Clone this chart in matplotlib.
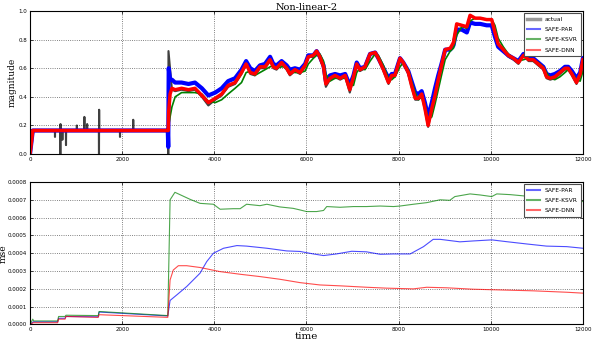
import numpy as np
import matplotlib
matplotlib.use("Agg")
import matplotlib.pyplot as plt
from matplotlib.ticker import FormatStrFormatter

# ---- top panel: magnitude ----
# actual signal, flat part with spikes then the drifting part
t_actual = [0, 540, 542, 545, 655, 658, 662, 666, 700, 702, 705, 778, 781, 784,
            1014, 1017, 1020, 1177, 1180, 1183, 1237, 1240, 1243, 1494, 1497, 1500,
            1503, 1950, 1953, 1956, 2237, 2240, 2243, 2995, 3000, 3005]
actual = [0.165, 0.165, 0.12, 0.165, 0.165, 0.0, 0.21, 0.165, 0.165, 0.10, 0.165,
          0.165, 0.063, 0.165, 0.165, 0.20, 0.165, 0.165, 0.26, 0.165, 0.165, 0.21,
          0.165, 0.165, 0.0, 0.31, 0.165, 0.165, 0.12, 0.165, 0.165, 0.24, 0.165,
          0.165, 0.0, 0.72]

t_drift = [3080, 3150, 3290, 3440, 3580, 3730, 3870, 4020, 4160, 4300, 4450, 4590,
           4690, 4780, 4880, 4990, 5100, 5210, 5280, 5350, 5460, 5570, 5640, 5750,
           5860, 5970, 6040, 6150, 6220, 6290, 6370, 6420, 6510, 6620, 6730, 6840,
           6940, 7020, 7090, 7160, 7270, 7380, 7490, 7560, 7670, 7780, 7850, 7920,
           8030, 8100, 8210, 8280, 8360, 8430, 8500, 8570, 8640, 8720, 8790, 8860,
           8930, 9010, 9120, 9190, 9260, 9370, 9480, 9550, 9660, 9770, 9910, 10020,
           10090, 10160, 10270, 10380, 10490, 10600, 10710, 10820, 10920, 11030,
           11140, 11210, 11290, 11390, 11500, 11610, 11680, 11760, 11860, 11940, 12000]
actual_drift = [0.45, 0.44, 0.45, 0.44, 0.45, 0.40, 0.34, 0.38, 0.41, 0.47, 0.49, 0.56,
                0.63, 0.56, 0.55, 0.60, 0.60, 0.65, 0.60, 0.59, 0.63, 0.59, 0.55, 0.58,
                0.56, 0.61, 0.68, 0.68, 0.72, 0.67, 0.60, 0.47, 0.52, 0.54, 0.52, 0.54,
                0.43, 0.53, 0.63, 0.58, 0.60, 0.70, 0.71, 0.67, 0.58, 0.49, 0.54, 0.54,
                0.67, 0.63, 0.56, 0.47, 0.38, 0.38, 0.41, 0.31, 0.19, 0.31, 0.40, 0.51,
                0.61, 0.73, 0.73, 0.77, 0.91, 0.90, 0.88, 0.97, 0.95, 0.95, 0.94, 0.94,
                0.84, 0.76, 0.72, 0.68, 0.66, 0.63, 0.69, 0.65, 0.65, 0.62,
                0.59, 0.53, 0.52, 0.53, 0.56, 0.59, 0.59, 0.55, 0.49, 0.55, 0.67]

# predictions: start + jump, then same drift grid
t_start = [0, 60, 2990, 3000, 3010, 3040]
par_start = [0.0, 0.165, 0.165, 0.05, 0.60, 0.52]
ksvr_start = [0.0, 0.165, 0.165, 0.165, 0.20, 0.26]
dnn_start = [0.0, 0.165, 0.165, 0.165, 0.30, 0.42]

par_drift = [0.52, 0.50, 0.50, 0.49, 0.50, 0.46, 0.41, 0.43, 0.46, 0.51, 0.53, 0.59,
             0.65, 0.60, 0.58, 0.62, 0.63, 0.68, 0.63, 0.62, 0.65, 0.62, 0.59, 0.60,
             0.59, 0.63, 0.69, 0.69, 0.72, 0.68, 0.62, 0.51, 0.55, 0.56, 0.55, 0.56,
             0.48, 0.55, 0.64, 0.60, 0.61, 0.70, 0.71, 0.67, 0.60, 0.53, 0.56, 0.56,
             0.67, 0.64, 0.58, 0.51, 0.43, 0.42, 0.44, 0.36, 0.26, 0.36, 0.46, 0.55,
             0.63, 0.73, 0.73, 0.76, 0.87, 0.87, 0.85, 0.92, 0.91, 0.91, 0.90, 0.90,
             0.82, 0.75, 0.72, 0.69, 0.67, 0.65, 0.70, 0.67, 0.67, 0.64,
             0.61, 0.56, 0.55, 0.56, 0.58, 0.61, 0.61, 0.58, 0.53, 0.57, 0.67]
ksvr_drift = [0.33, 0.40, 0.43, 0.43, 0.43, 0.42, 0.37, 0.36, 0.38, 0.42, 0.46, 0.50,
              0.57, 0.58, 0.55, 0.57, 0.59, 0.61, 0.62, 0.60, 0.61, 0.61, 0.58, 0.57,
              0.57, 0.58, 0.63, 0.67, 0.69, 0.70, 0.65, 0.56, 0.51, 0.53, 0.53, 0.53,
              0.49, 0.48, 0.57, 0.60, 0.59, 0.65, 0.70, 0.69, 0.62, 0.53, 0.52, 0.54,
              0.61, 0.64, 0.59, 0.51, 0.43, 0.38, 0.40, 0.35, 0.24, 0.26, 0.35, 0.45,
              0.55, 0.66, 0.72, 0.74, 0.83, 0.89, 0.88, 0.93, 0.95, 0.95, 0.94, 0.94,
              0.90, 0.81, 0.75, 0.70, 0.67, 0.65, 0.66, 0.67, 0.65, 0.64,
              0.61, 0.57, 0.53, 0.52, 0.54, 0.57, 0.59, 0.57, 0.52, 0.51, 0.58]
dnn_drift = [0.46, 0.45, 0.46, 0.45, 0.46, 0.41, 0.36, 0.39, 0.42, 0.48, 0.50, 0.57,
             0.63, 0.57, 0.56, 0.61, 0.61, 0.66, 0.61, 0.60, 0.64, 0.60, 0.56, 0.59,
             0.57, 0.62, 0.68, 0.69, 0.72, 0.68, 0.61, 0.49, 0.53, 0.55, 0.53, 0.55,
             0.45, 0.54, 0.63, 0.59, 0.61, 0.70, 0.71, 0.67, 0.59, 0.50, 0.55, 0.55,
             0.67, 0.64, 0.57, 0.48, 0.39, 0.39, 0.42, 0.32, 0.20, 0.32, 0.41, 0.52,
             0.62, 0.73, 0.74, 0.78, 0.91, 0.90, 0.89, 0.97, 0.95, 0.95, 0.94, 0.94,
             0.85, 0.77, 0.73, 0.69, 0.67, 0.64, 0.69, 0.66, 0.66, 0.63,
             0.60, 0.54, 0.53, 0.54, 0.57, 0.60, 0.60, 0.56, 0.50, 0.56, 0.66]

# ---- bottom panel: running mse ----
t_mse_par = [0, 70, 600, 620, 760, 780, 1480, 1500, 2990, 3040, 3185, 3400, 3690,
             3835, 3980, 4200, 4490, 4700, 5140, 5570, 5860, 6150, 6370, 6650, 6980,
             7300, 7600, 7890, 8250, 8540, 8750, 8900, 9330, 9620, 10020, 10340,
             10780, 11210, 11650, 12000]
mse_par = [0, 0.000015, 0.000015, 0.000035, 0.000035, 0.000045, 0.000043, 0.00007,
           0.000048, 0.000135, 0.000166, 0.000213, 0.000288, 0.000353, 0.0004,
           0.000428, 0.000443, 0.00044, 0.000428, 0.000413, 0.00041, 0.000396,
           0.000387, 0.000396, 0.000411, 0.000408, 0.000394, 0.000396, 0.000396,
           0.000437, 0.000478, 0.000478, 0.000464, 0.000469, 0.000475, 0.000465,
           0.000452, 0.00044, 0.000437, 0.000428]

t_mse_ksvr = [0, 60, 80, 600, 620, 760, 780, 1480, 1500, 2990, 3040, 3145, 3470,
              3690, 3980, 4125, 4410, 4560, 4700, 4990, 5140, 5420, 5710, 5860, 6000,
              6220, 6370, 6440, 6730, 7020, 7300, 7600, 7890, 8030, 8320, 8610, 8900,
              9110, 9220, 9550, 9770, 10020, 10130, 10420, 10710, 10920, 11360,
              11650, 12000]
mse_ksvr = [0, 0.00003, 0.00002, 0.00002, 0.000045, 0.000045, 0.000052, 0.00005,
            0.000073, 0.00005, 0.0007, 0.000742, 0.000703, 0.00068, 0.000675,
            0.000647, 0.00065, 0.00065, 0.000675, 0.000667, 0.000675, 0.00066,
            0.000652, 0.000643, 0.000634, 0.000634, 0.00064, 0.000662, 0.000658,
            0.000662, 0.000662, 0.000665, 0.000662, 0.000665, 0.000675, 0.000684,
            0.0007, 0.000697, 0.000718, 0.000733, 0.000727, 0.000718, 0.000733,
            0.000729, 0.000722, 0.000714, 0.000703, 0.000695, 0.00069]

t_mse_dnn = [0, 70, 600, 620, 760, 780, 1480, 1500, 2990, 3040, 3110, 3220, 3400,
             3690, 4120, 4560, 4990, 5420, 5860, 6290, 6730, 7310, 7740, 8320, 8610,
             9040, 9620, 10200, 10920, 11650, 12000]
mse_dnn = [0, 0.00001, 0.00001, 0.00003, 0.00003, 0.000045, 0.00004, 0.000055,
           0.00004, 0.00025, 0.000306, 0.00033, 0.00033, 0.00032, 0.000297, 0.000282,
           0.000269, 0.000254, 0.000235, 0.000222, 0.000217, 0.000209, 0.000204,
           0.0002, 0.000209, 0.000206, 0.000198, 0.000194, 0.000189, 0.000181,
           0.000176]

SERIF = "DejaVu Serif"

fig = plt.figure(figsize=(5.92, 3.44), dpi=100)
ax1 = fig.add_axes([0.0507, 0.552, 0.934, 0.416])
ax2 = fig.add_axes([0.0507, 0.0567, 0.934, 0.4143])

# top
ax1.plot(t_actual + t_drift, actual + actual_drift, color="k", alpha=0.75, lw=1.5,
         label="actual")
ax1.plot(t_start + t_drift, par_start + par_drift, color="b", lw=3.0,
         label="SAFE-PAR")
ax1.plot(t_start + t_drift, ksvr_start + ksvr_drift, color="g", lw=1.2,
         label="SAFE-KSVR")
ax1.plot(t_start + t_drift, dnn_start + dnn_drift, color="r", lw=2.5,
         label="SAFE-DNN")
ax1.set_xlim(0, 12000)
ax1.set_ylim(0, 1.0)
ax1.set_yticks(np.arange(0, 1.01, 0.2))
ax1.yaxis.set_major_formatter(FormatStrFormatter("%.1f"))
ax1.set_title("Non-linear-2", family=SERIF, fontsize=7, pad=1)
ax1.set_ylabel("magnitude", family=SERIF, fontsize=6.5)
ax1.yaxis.set_label_coords(-0.0235, 0.5)

# bottom
ax2.plot(t_mse_par, mse_par, color="b", alpha=0.7, lw=0.8, label="SAFE-PAR")
ax2.plot(t_mse_ksvr, mse_ksvr, color="g", alpha=0.7, lw=0.8, label="SAFE-KSVR")
ax2.plot(t_mse_dnn, mse_dnn, color="r", alpha=0.7, lw=0.8, label="SAFE-DNN")
ax2.set_xlim(0, 12000)
ax2.set_ylim(0, 0.0008)
ax2.set_yticks(np.arange(0, 0.00081, 0.0001))
ax2.yaxis.set_major_formatter(FormatStrFormatter("%.4f"))
ax2.set_ylabel("mse", family=SERIF, fontsize=6.5)
ax2.yaxis.set_label_coords(-0.0405, 0.5)
ax2.set_xlabel("time", family=SERIF, fontsize=7.5, labelpad=0)

for ax in (ax1, ax2):
    ax.set_xticks(np.arange(0, 12001, 2000))
    ax.tick_params(labelsize=4, direction="in", length=2.5, width=0.5,
                   top=True, right=True, pad=2)
    ax.grid(True, color="0.35", linestyle=":", linewidth=0.6)
    for s in ax.spines.values():
        s.set_linewidth(0.8)
    leg = ax.legend(loc="upper right", fontsize=4.2, fancybox=False,
                    framealpha=1, borderaxespad=0.35, labelspacing=0.9,
                    handlelength=2.2, borderpad=0.6)
    leg.get_frame().set_edgecolor("0.3")
    leg.get_frame().set_linewidth(0.8)
    for h in leg.get_lines():
        h.set_alpha(0.6)
        h.set_linewidth(1.5)

# the actual handle is drawn thicker and grey
ax1.get_legend().get_lines()[0].set_linewidth(2.5)
ax1.get_legend().get_lines()[0].set_alpha(0.4)

fig.savefig("out.png", dpi=100)
